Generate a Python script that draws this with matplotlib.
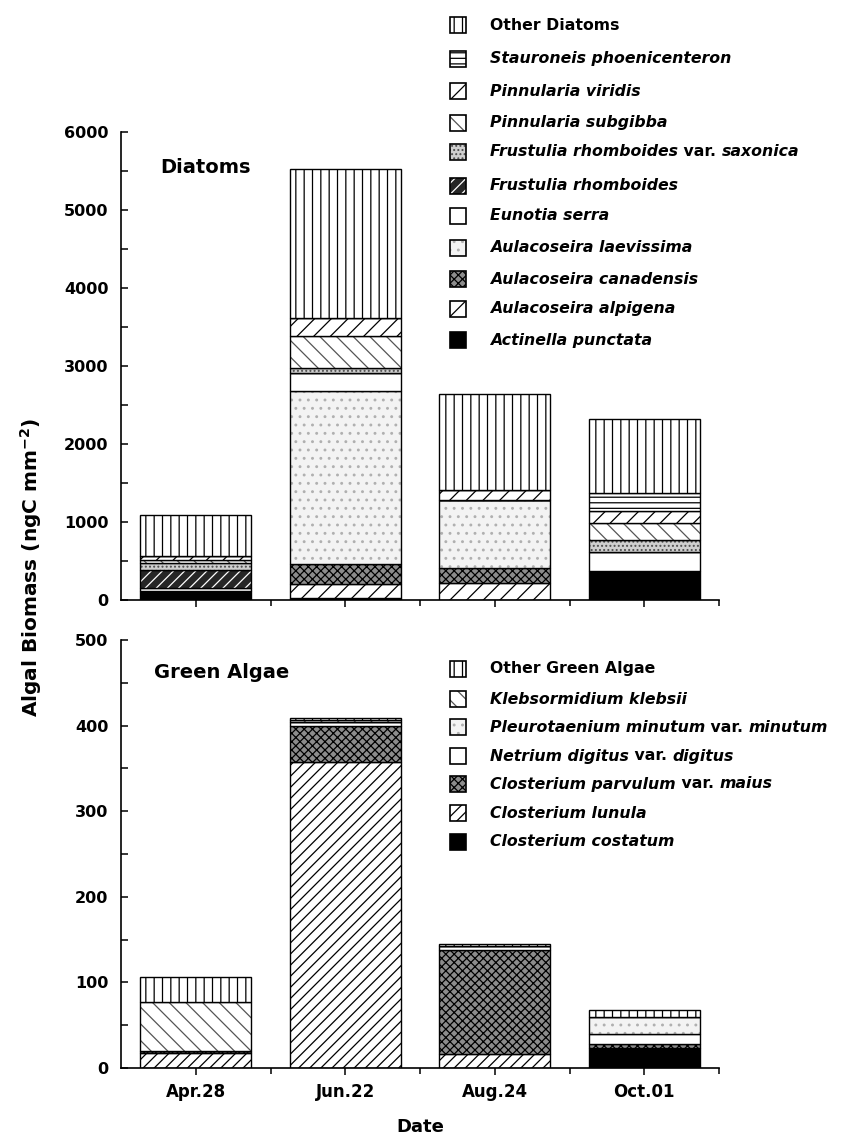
import numpy as np
import matplotlib
matplotlib.use('Agg')
import matplotlib.pyplot as plt
from matplotlib.patches import Rectangle
from matplotlib.text import Annotation

plt.rcParams['font.family'] = ['DejaVu Sans']
plt.rcParams['font.weight'] = 'bold'
plt.rcParams['hatch.linewidth'] = 0.9

# ---- data (ngC mm-2) ----
dates = ['Apr.28', 'Jun.22', 'Aug.24', 'Oct.01']

# diatoms, bottom -> top of the stack
actinella     = [115,   30,    0,  370]
alpigena      = [0,    170,  215,    0]
canadensis    = [0,    262,  195,    0]
laevissima    = [0,   2213,  870,    0]
eunotia       = [40,   229,    0,  240]
frustulia     = [235,    0,    0,    0]
saxonica      = [85,    76,    0,  154]
subgibba      = [40,   404,    0,  221]
viridis       = [55,   232,  125,  156]
stauroneis    = [0,      0,    0,  234]
other_diatoms = [515, 1910, 1240,  946]

# green algae, bottom -> top
costatum      = [0,    0,   0, 23]
lunula        = [18, 358,  16,  0]
parvulum      = [2,   42, 122,  5]
netrium       = [0,    4,   4, 12]
pleurotaenium = [0,    0,   0, 20]
klebsii       = [57,   3,   0,  0]
other_green   = [29,   2,   3,  8]

diatom_series = [actinella, alpigena, canadensis, laevissima, eunotia,
                 frustulia, saxonica, subgibba, viridis, stauroneis,
                 other_diatoms]
green_series = [costatum, lunula, parvulum, netrium, pleurotaenium,
                klebsii, other_green]

# legend texts: list of (text, italic?) pieces, same order as the stacks
diatom_labels = [
    [('Actinella punctata', True)],
    [('Aulacoseira alpigena', True)],
    [('Aulacoseira canadensis', True)],
    [('Aulacoseira laevissima', True)],
    [('Eunotia serra', True)],
    [('Frustulia rhomboides', True)],
    [('Frustulia rhomboides', True), (' var. ', False), ('saxonica', True)],
    [('Pinnularia subgibba', True)],
    [('Pinnularia viridis', True)],
    [('Stauroneis phoenicenteron', True)],
    [('Other Diatoms', False)],
]
green_labels = [
    [('Closterium costatum', True)],
    [('Closterium lunula', True)],
    [('Closterium parvulum', True), (' var. ', False), ('maius', True)],
    [('Netrium digitus', True), (' var. ', False), ('digitus', True)],
    [('Pleurotaenium minutum', True), (' var. ', False), ('minutum', True)],
    [('Klebsormidium klebsii', True)],
    [('Other Green Algae', False)],
]

# fill styles: (face colour, hatch, hatch colour)
BLACK   = ('black', None, 'black')
WHITE   = ('white', None, 'black')
SPARSE_SLASH = ('white', '//', 'black')
DENSE_SLASH  = ('white', '///', 'black')
CHECK   = ('#8c8c8c', 'xxxx', 'black')
LIGHT   = ('#f3f3f3', '..', '#b0b0b0')
STIPPLE = ('#cfcfcf', '....', '#4d4d4d')
DASHES  = ('white', '\\\\', '#555555')
VIRID   = ('white', '//', 'black')
HLINES  = ('white', '---', 'black')
VLINES  = ('white', '||', 'black')
DARK_HATCH = ('#262626', '///', 'white')

diatom_styles = [BLACK, SPARSE_SLASH, CHECK, LIGHT, WHITE, DARK_HATCH,
                 STIPPLE, DASHES, VIRID, HLINES, VLINES]
green_styles = [BLACK, DENSE_SLASH, CHECK, WHITE, LIGHT, DASHES, VLINES]

W, H = 844, 1142
fig = plt.figure(figsize=(W / 100, H / 100), dpi=100)
ax1 = fig.add_axes([0.1434, 0.4746, 0.7085, 0.4098])
ax2 = fig.add_axes([0.1434, 0.0648, 0.7085, 0.3748])

x = np.arange(1, len(dates) + 1)
width = 0.74


def stack(ax, series, styles):
    bottom = np.zeros(len(dates))
    for vals, (face, hatch, hc) in zip(series, styles):
        vals = np.asarray(vals, dtype=float)
        ax.bar(x, vals, width, bottom=bottom, color=face, hatch=hatch,
               edgecolor=hc, linewidth=0)
        ax.bar(x, vals, width, bottom=bottom, fill=False,
               edgecolor='black', linewidth=1.0)
        bottom += vals


def style_axes(ax, ymax, major, minor):
    ax.set_xlim(0.5, 4.5)
    ax.set_ylim(0, ymax)
    ax.spines['top'].set_visible(False)
    ax.spines['right'].set_visible(False)
    ax.spines['left'].set_linewidth(1.2)
    ax.spines['bottom'].set_linewidth(1.2)
    ax.set_yticks(np.arange(0, ymax + 1, major))
    ax.set_yticks(np.arange(0, ymax + 1, minor), minor=True)
    ax.set_xticks(x)
    ax.set_xticks([1.5, 2.5, 3.5, 4.5], minor=True)
    ax.tick_params(axis='y', which='both', direction='in', length=5,
                   width=1.1, pad=9, labelsize=11.5)
    ax.tick_params(axis='x', which='major', direction='out', length=5,
                   width=1.1, pad=6, labelsize=12)
    ax.tick_params(axis='x', which='minor', direction='out', length=4,
                   width=1.1)
    ax.patch.set_visible(False)


stack(ax1, diatom_series, diatom_styles)
stack(ax2, green_series, green_styles)
style_axes(ax1, 6000, 1000, 500)
style_axes(ax2, 500, 100, 50)
ax1.set_xticklabels([])
ax2.set_xticklabels(dates)

ax1.text(0.065, 0.925, 'Diatoms', transform=ax1.transAxes,
         fontsize=14, fontweight='bold', va='center')
ax2.text(0.055, 0.925, 'Green Algae', transform=ax2.transAxes,
         fontsize=14, fontweight='bold', va='center')

fig.text(0.037, 0.5035, 'Algal Biomass (ngC mm$^{\\mathbf{-2}}$)',
         rotation=90, ha='center', va='center', fontsize=14.5,
         fontweight='bold')
fig.text(0.4976, 0.013, 'Date', ha='center', va='center',
         fontsize=13, fontweight='bold')

LEG_FS = 11.3


def legend_row(y, pieces, style):
    # one manual legend row, y in pixels from the top of the figure
    face, hatch, hc = style
    fy = 1 - y / H
    ph = 16 / H
    fig.add_artist(Rectangle((450 / W, fy - ph / 2), 16 / W, ph,
                             transform=fig.transFigure, facecolor=face,
                             hatch=hatch, edgecolor=hc, linewidth=0))
    fig.add_artist(Rectangle((450 / W, fy - ph / 2), 16 / W, ph,
                             transform=fig.transFigure, fill=False,
                             edgecolor='black', linewidth=1.2))
    first_text, first_ital = pieces[0]
    prev = fig.text(490 / W, fy, first_text, fontsize=LEG_FS,
                    fontweight='bold',
                    fontstyle='italic' if first_ital else 'normal',
                    va='center', ha='left')
    # chain the remaining pieces onto the end of the previous one
    for text, ital in pieces[1:]:
        prev = fig.add_artist(Annotation(
            text, xy=(1, 0), xycoords=prev, va='bottom', ha='left',
            fontsize=LEG_FS, fontweight='bold',
            fontstyle='italic' if ital else 'normal'))


diatom_rows_y = [340, 309, 279, 248, 216, 186, 152, 123, 91, 59, 25]
green_rows_y = [842, 813, 784, 756, 727, 699, 669]

for y, pieces, style in zip(diatom_rows_y, diatom_labels, diatom_styles):
    legend_row(y, pieces, style)
for y, pieces, style in zip(green_rows_y, green_labels, green_styles):
    legend_row(y, pieces, style)

fig.savefig('out.png', dpi=100)
plt.close(fig)
